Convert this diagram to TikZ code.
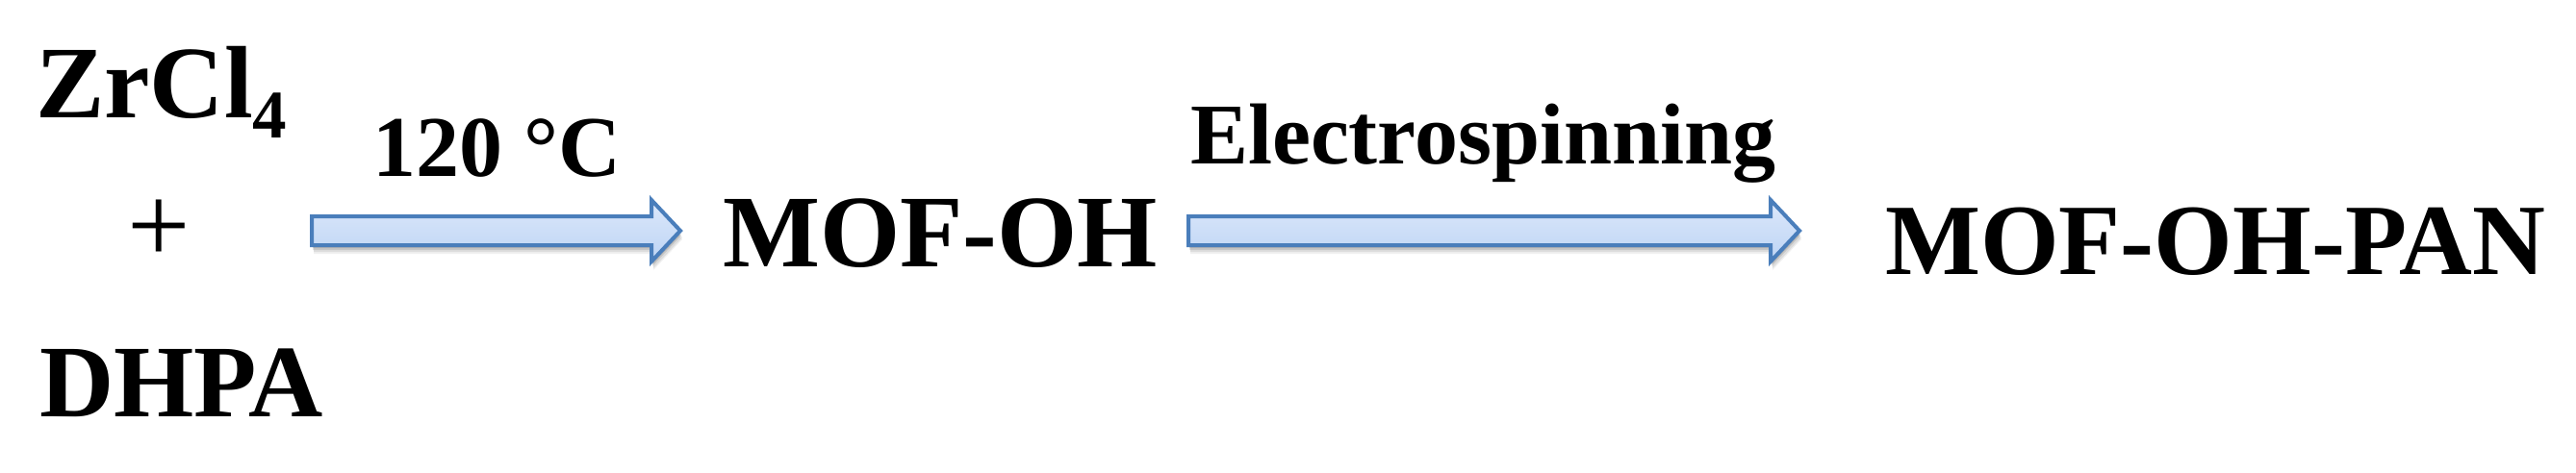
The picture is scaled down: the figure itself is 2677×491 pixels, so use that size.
\documentclass[tikz,border=0pt]{standalone}
\usepackage{fontspec}
\setmainfont{Liberation Serif}
\usetikzlibrary{calc}
\definecolor{arrowborder}{HTML}{4A7EBB}
\definecolor{arrowtop}{HTML}{DCE8FB}
\definecolor{arrowbottom}{HTML}{BDD4F4}
\tikzset{
  chem/.style={inner sep=0pt, outer sep=0pt, font=\fontsize{107}{120}\selectfont\bfseries},
  chemright/.style={inner sep=0pt, outer sep=0pt, font=\fontsize{105}{120}\selectfont\bfseries},
  cond/.style={inner sep=0pt, outer sep=0pt, font=\fontsize{90}{100}\selectfont\bfseries},
  plussign/.style={inner sep=0pt, outer sep=0pt, font=\fontsize{116}{120}\selectfont},
  blockarrow/.style={draw=arrowborder, line width=4pt, line join=miter, top color=arrowtop, bottom color=arrowbottom},
  arrowshadow/.style={fill=black, draw=none}
}
\newcommand{\arrowpath}[2]{($(#1)+(0,-15)$) -- ($(#2)+(-30,-15)$) -- ($(#2)+(-30,-32)$) -- (#2) -- ($(#2)+(-30,32)$) -- ($(#2)+(-30,15)$) -- ($(#1)+(0,15)$) -- cycle}
\begin{document}
\begin{tikzpicture}[x=1pt, y=-1pt]
  \useasboundingbox[fill=white] (0,0) rectangle (2677,491);
  % texts
  \node[chem, anchor=base west] (zr) at (37,122) {ZrCl\raisebox{-21pt}{\fontsize{71}{71}\selectfont 4}};
  \node[plussign] (plus) at (165,241) {+};
  \node[chem, anchor=base west] (dhpa) at (41,433) {DHPA};
  \node[cond, anchor=base west] (temp) at (387,183) {120 °C};
  \node[chem, anchor=base west] (mof) at (751,277) {MOF-OH};
  \node[cond, anchor=base west] (spin) at (1237,170) {Electrospinning};
  \node[chemright, anchor=base west] (pan) at (1959,285) {MOF-OH-PAN};
  % arrow end points
  \coordinate (a1s) at (324,240);
  \coordinate (a1e) at (707,240);
  \coordinate (a2s) at (1235,240);
  \coordinate (a2e) at (1870,240);
  % shadows
  \foreach \dx/\dy/\op in {2/9/0.06, 2/7/0.08, 1/5/0.10, 1/3/0.10}{
    \fill[arrowshadow, opacity=\op] ($(a1s)+(\dx,\dy)$) coordinate (s1) ($(a1e)+(\dx,\dy)$) coordinate (e1) \arrowpath{s1}{e1};
    \fill[arrowshadow, opacity=\op] ($(a2s)+(\dx,\dy)$) coordinate (s2) ($(a2e)+(\dx,\dy)$) coordinate (e2) \arrowpath{s2}{e2};
  }
  % arrows
  \path[blockarrow] \arrowpath{a1s}{a1e};
  \path[blockarrow] \arrowpath{a2s}{a2e};
\end{tikzpicture}
\end{document}
